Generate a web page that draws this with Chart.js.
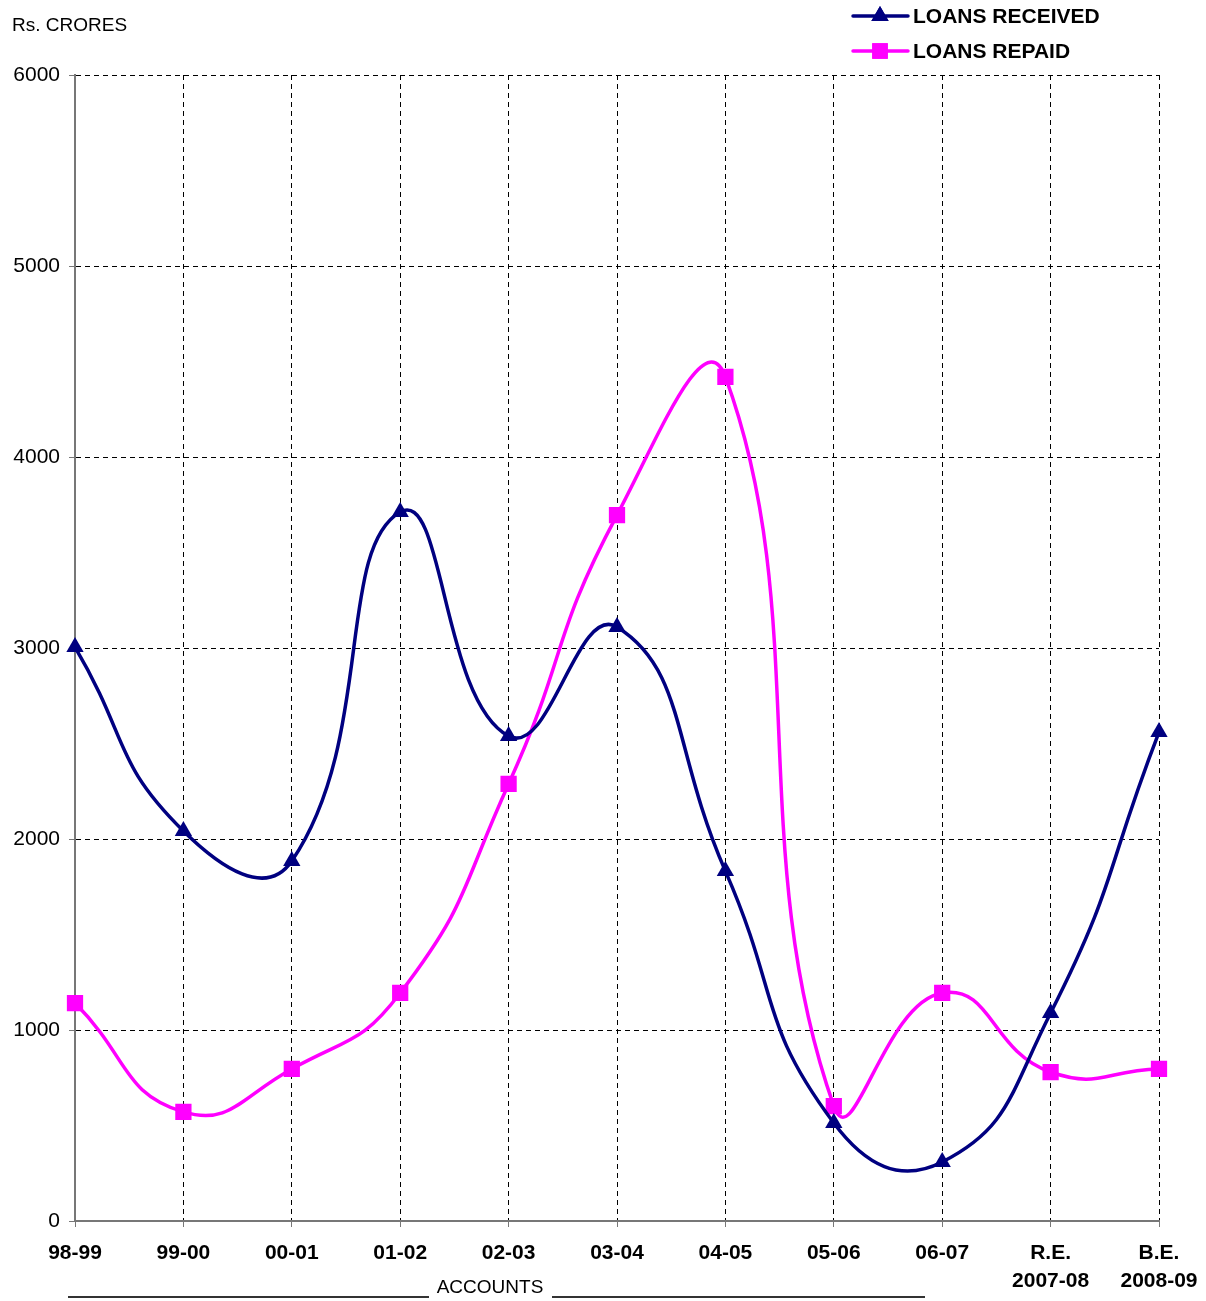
<!DOCTYPE html>
<html>
<head>
<meta charset="utf-8">
<script src="https://cdn.jsdelivr.net/npm/chart.js@4.4.0/dist/chart.umd.min.js"></script>
<style>
    html, body { margin: 0; padding: 0; background: #fff; }
    #wrap { width: 1206px; height: 1301px; position: relative; }
</style>
</head>
<body>
<div id="wrap"><canvas id="chart"></canvas></div>
<script>
// chart data
const categories = ['98-99', '99-00', '00-01', '01-02', '02-03', '03-04', '04-05', '05-06', '06-07', ['R.E.', '2007-08'], ['B.E.', '2008-09']];
const loansReceived = [3005, 2042, 1885, 3712, 2539, 3110, 1832, 513, 309, 1089, 2560];
const loansRepaid = [1141, 571, 796, 1194, 2288, 3696, 4419, 602, 1194, 780, 796];
const yTicks = [0, 1000, 2000, 3000, 4000, 5000, 6000];

const NAVY = '#000080';
const PINK = '#FF00FF';
const FONT = '"Liberation Sans", Arial, sans-serif';

// legend, axis titles
const extras = {
    id: 'extras',
    afterDraw(chart) {
        const ctx = chart.ctx;
        ctx.save();
        ctx.fillStyle = '#000';
        ctx.font = '19px ' + FONT;
        ctx.textBaseline = 'middle';
        ctx.textAlign = 'left';
        ctx.fillText('Rs. CRORES', 12, 26);

        // bottom title with rules either side
        ctx.textAlign = 'center';
        ctx.fillText('ACCOUNTS', 490, 1288);
        ctx.strokeStyle = '#333';
        ctx.lineWidth = 2;
        ctx.beginPath();
        ctx.moveTo(68, 1297); ctx.lineTo(429, 1297);
        ctx.moveTo(552, 1297); ctx.lineTo(925, 1297);
        ctx.stroke();

        // legend
        const items = [
            { label: 'LOANS RECEIVED', color: NAVY, style: 'triangle', y: 16 },
            { label: 'LOANS REPAID', color: PINK, style: 'rect', y: 51 }
        ];
        items.forEach(it => {
            ctx.strokeStyle = it.color;
            ctx.lineWidth = 3.5;
            ctx.lineCap = 'round';
            ctx.beginPath();
            ctx.moveTo(853, it.y); ctx.lineTo(908, it.y);
            ctx.stroke();
            ctx.fillStyle = it.color;
            Chart.helpers.drawPoint(ctx, { pointStyle: it.style, radius: it.style === 'rect' ? 11 : 10, borderWidth: 0 }, 880, it.y);
            ctx.fill();
            ctx.fillStyle = '#000';
            ctx.font = 'bold 21px ' + FONT;
            ctx.textAlign = 'left';
            ctx.fillText(it.label, 913, it.y + 1);
        });
        ctx.restore();
    }
};

// first line sits under the solid axis, so leave it out
const gridOpts = {
    color: c => c.index === 0 ? 'rgba(0,0,0,0)' : '#000',
    lineWidth: 1,
    drawTicks: true,
    tickLength: 6,
    tickColor: '#777',
    tickBorderDash: []
};

new Chart(document.getElementById('chart'), {
    type: 'line',
    data: {
        labels: categories,
        datasets: [{
            label: 'LOANS RECEIVED',
            data: loansReceived,
            borderColor: NAVY,
            backgroundColor: NAVY,
            borderWidth: 3.5,
            tension: 0.5,
            pointStyle: 'triangle',
            pointRadius: 10,
            pointBorderWidth: 0,
            pointBackgroundColor: NAVY
        }, {
            label: 'LOANS REPAID',
            data: loansRepaid,
            borderColor: PINK,
            backgroundColor: PINK,
            borderWidth: 3.5,
            tension: 0.5,
            pointStyle: 'rect',
            pointRadius: 11.5,
            pointBorderWidth: 0,
            pointBackgroundColor: PINK
        }]
    },
    options: {
        responsive: true,
        maintainAspectRatio: false,
        animation: false,
        layout: { padding: { left: 0, right: 47, top: 75, bottom: 0 } },
        plugins: { legend: { display: false }, tooltip: { enabled: false } },
        scales: {
            x: {
                offset: false,
                afterFit(scale) {
                    scale.height = 80;
                    scale.paddingLeft = 0;
                    scale.paddingRight = 0;
                },
                grid: gridOpts,
                border: { display: true, color: '#777', width: 2, dash: [5, 4] },
                ticks: {
                    color: '#000',
                    font: { family: FONT, size: 21, weight: 'bold', lineHeight: 1.35 },
                    padding: 12,
                    maxRotation: 0,
                    autoSkip: false
                }
            },
            y: {
                min: 0,
                max: 6000,
                afterFit(scale) { scale.width = 75; },
                afterBuildTicks(scale) { scale.ticks = yTicks.map(v => ({ value: v })); },
                grid: gridOpts,
                border: { display: true, color: '#777', width: 2, dash: [5, 4] },
                ticks: {
                    color: '#000',
                    font: { family: FONT, size: 21 },
                    padding: 9,
                    callback: v => String(v)
                }
            }
        }
    },
    plugins: [extras]
});
</script>
</body>
</html>
